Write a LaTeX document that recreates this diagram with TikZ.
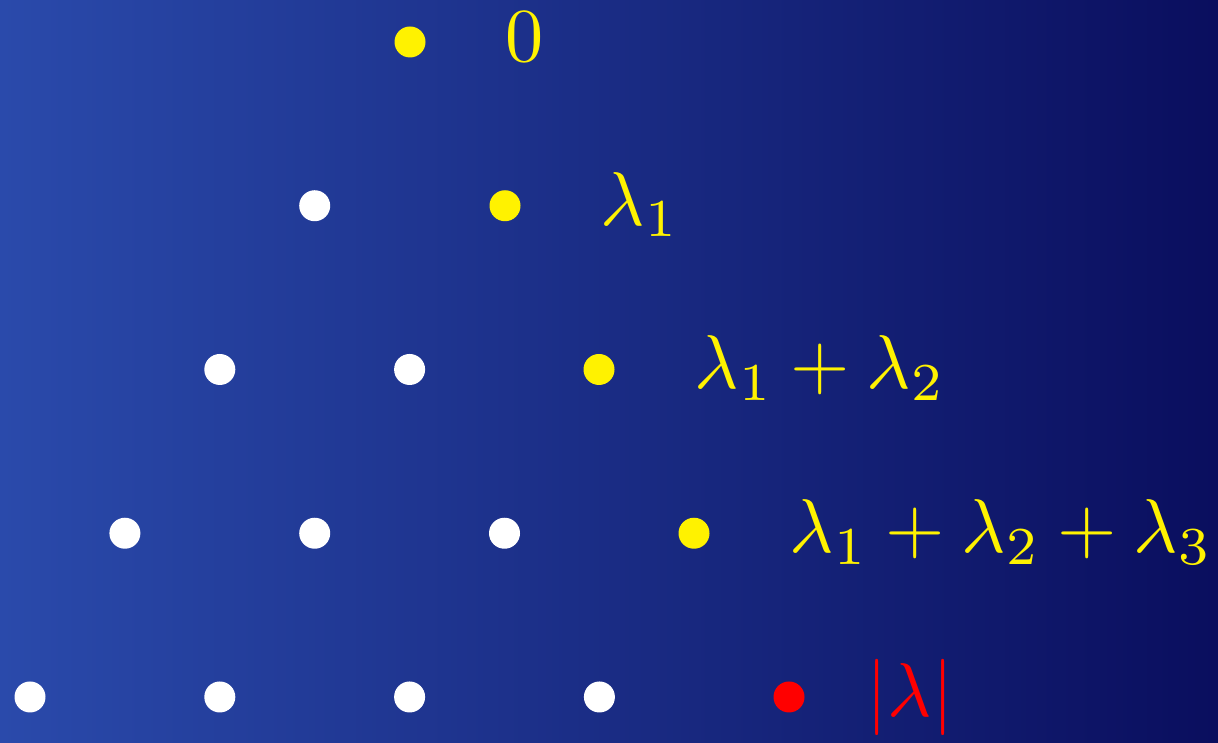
\documentclass[tikz,border=0pt]{standalone}
\usepackage{amsmath}
\usepackage{graphicx}
\usepackage{tikz}
\usetikzlibrary{positioning}

\definecolor{bgleft}{RGB}{42,74,171}
\definecolor{bgright}{RGB}{10,14,94}

% enlarged math, 10pt design size
\newcommand{\bigmath}[1]{\scalebox{2.17}{$#1$}}

\begin{document}
\begin{tikzpicture}[
	% Style for Dots
	dot/.style={
		circle,
		fill=white,
		inner sep=0pt,
		minimum size=0.31cm
	},
	partial/.style={dot, fill=yellow}, % Partial sums
	total/.style={dot, fill=red},      % Size of the partition
	% Style for Labels
	sumlabel/.style={
		anchor=base west,
		inner sep=0pt,
		text=yellow,
		font=\fontsize{10}{12}\selectfont
	}
	]
	
	% --- BACKGROUND ---
	\fill[left color=bgleft, right color=bgright] (0,0) rectangle (12.18,7.43);
	\useasboundingbox (0,0) rectangle (12.18,7.43);
	
	% --- WHITE DOTS ---
	\foreach \r in {1,...,4} {
		\pgfmathtruncatemacro{\last}{\r-1}
		\foreach \k in {0,...,\last} {
			\node[dot] (d\r\k) at ({0.30+0.949*(4-\r+2*\k)}, {7.01-1.6375*\r}) {};
		}
	}
	
	% --- RIGHT EDGE: PARTIAL SUMS ---
	\node[partial] (p0) at (4.10,7.01) {};
	\node[partial] (p1) at (5.05,5.3725) {};
	\node[partial] (p2) at (5.99,3.735) {};
	\node[partial] (p3) at (6.94,2.0975) {};
	\node[total] (p4) at (7.89,0.46) {};
	
	% --- LABELS ---
	\node[sumlabel, xshift=0.95cm, yshift=-0.195cm] (s0) at (p0) {\bigmath{0}};
	\node[sumlabel, xshift=0.95cm, yshift=-0.195cm] (s1) at (p1) {\bigmath{\lambda_1}};
	\node[sumlabel, xshift=0.95cm, yshift=-0.195cm] (s2) at (p2) {\bigmath{\lambda_1+\lambda_2}};
	\node[sumlabel, xshift=0.95cm, yshift=-0.195cm] (s3) at (p3) {\bigmath{\lambda_1+\lambda_2+\lambda_3}};
	\node[sumlabel, text=red, xshift=0.77cm, yshift=-0.195cm] (s4) at (p4) {\bigmath{|\lambda|}};
	
\end{tikzpicture}
\end{document}
